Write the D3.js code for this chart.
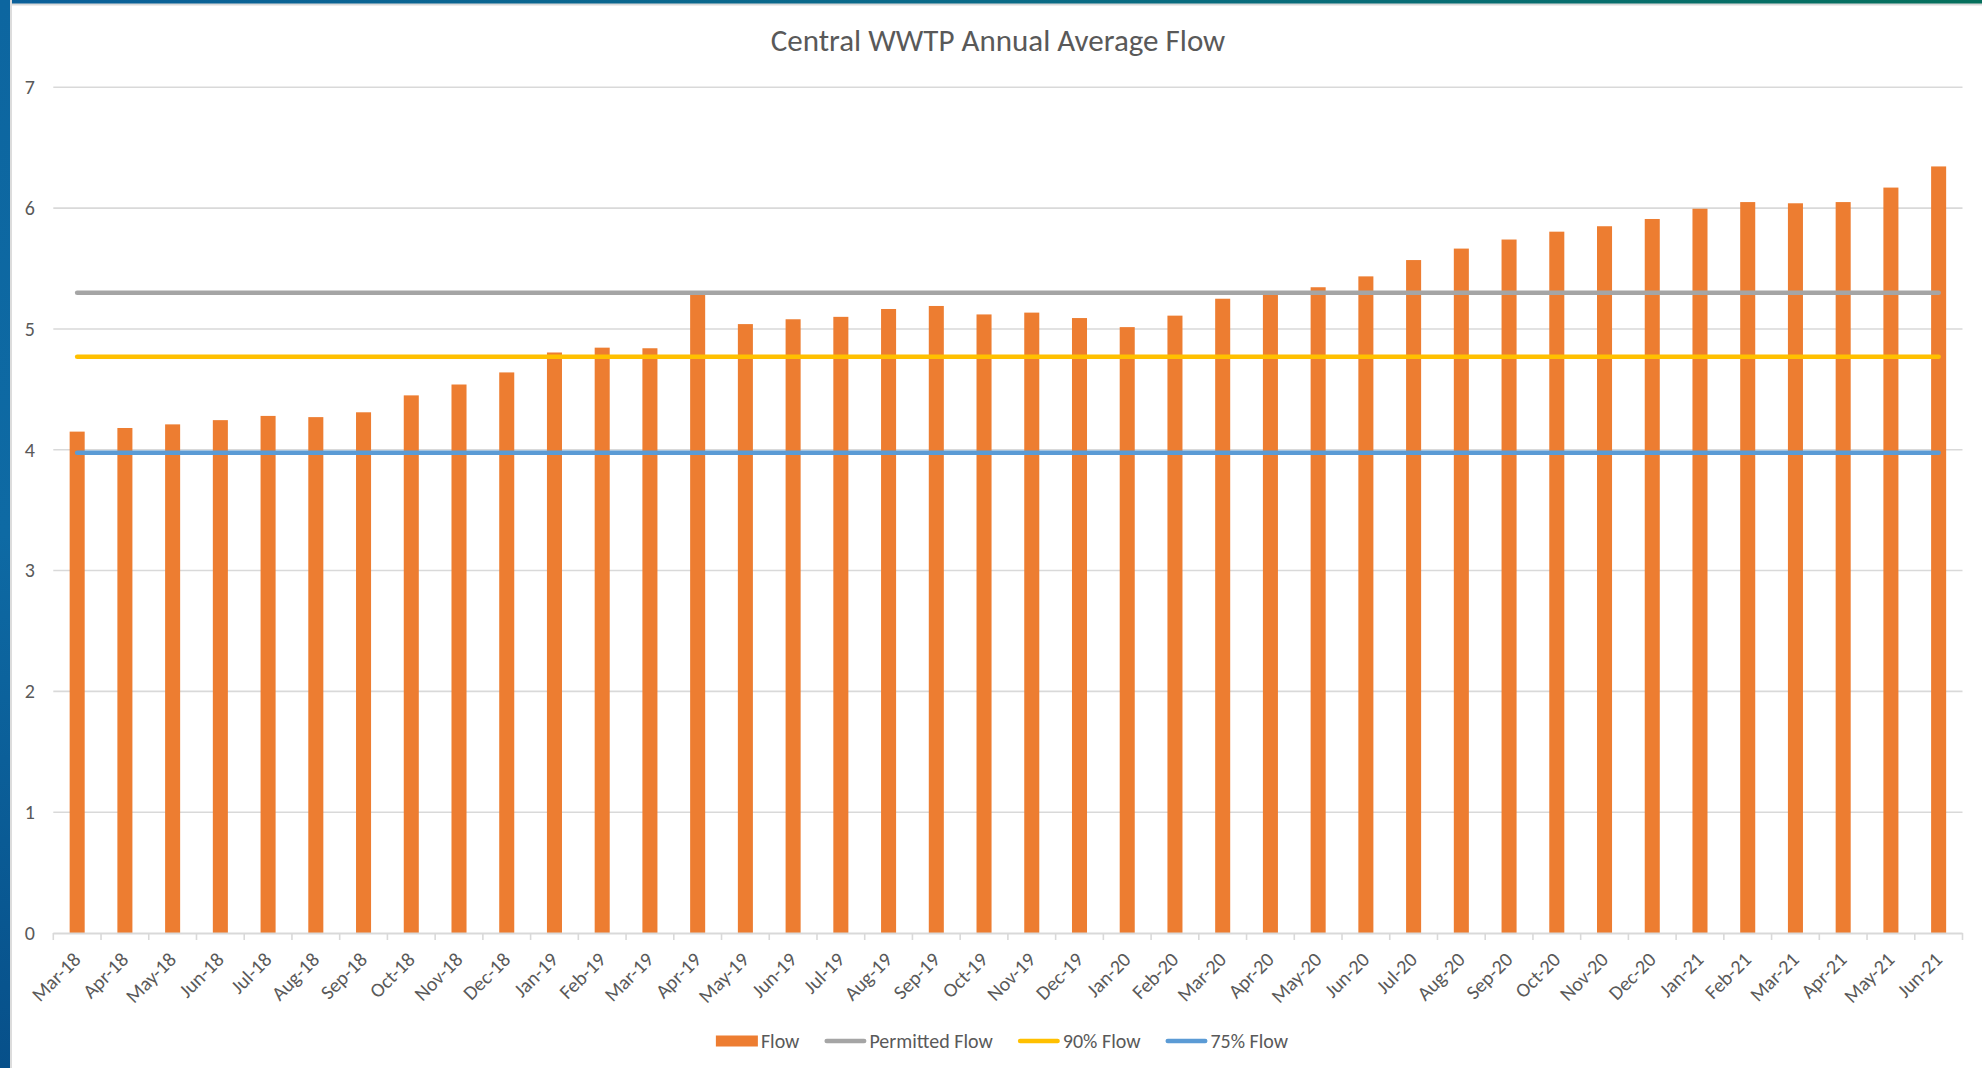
<!DOCTYPE html>
<html>
<head>
<meta charset="utf-8">
<script src="https://cdn.jsdelivr.net/npm/d3@7"></script>
<style>
  body { margin: 0; background: #ffffff; overflow: hidden; }
  svg { display: block; }
  text { font-family: Carlito, Lato, "Open Sans", sans-serif; fill: #595959; }
</style>
</head>
<body>
<svg id="mysvg"></svg>
<script>
// month categories (x tick labels)
let months = ["Mar-18","Apr-18","May-18","Jun-18","Jul-18","Aug-18","Sep-18","Oct-18","Nov-18","Dec-18",
  "Jan-19","Feb-19","Mar-19","Apr-19","May-19","Jun-19","Jul-19","Aug-19","Sep-19","Oct-19","Nov-19","Dec-19",
  "Jan-20","Feb-20","Mar-20","Apr-20","May-20","Jun-20","Jul-20","Aug-20","Sep-20","Oct-20","Nov-20","Dec-20",
  "Jan-21","Feb-21","Mar-21","Apr-21","May-21","Jun-21"];

// annual average flow (MGD)
let flow = [4.15, 4.18, 4.21, 4.245, 4.28, 4.27, 4.31, 4.45, 4.54, 4.64,
  4.805, 4.845, 4.84, 5.29, 5.04, 5.08, 5.10, 5.165, 5.19, 5.12, 5.135, 5.09,
  5.015, 5.11, 5.25, 5.30, 5.345, 5.435, 5.57, 5.665, 5.74, 5.805, 5.85, 5.91,
  5.995, 6.05, 6.04, 6.05, 6.17, 6.345];

// constant reference series
let refNames = ["Permitted Flow", "90% Flow", "75% Flow"];
let refValues = [5.3, 4.77, 3.975];
let refColors = ["#a5a5a5", "#ffc000", "#5b9bd5"];

let yTicks = [0, 1, 2, 3, 4, 5, 6, 7];
let titleText = "Central WWTP Annual Average Flow";

function draw() {
    var W = 1982, H = 1068;
    var svg = d3.select("#mysvg").attr("width", W).attr("height", H);

    // window frame (blue edge on left, teal strip on top)
    var defs = svg.append("defs");
    var gTop = defs.append("linearGradient").attr("id", "topGrad")
        .attr("x1", "0%").attr("x2", "100%").attr("y1", "0%").attr("y2", "0%");
    gTop.append("stop").attr("offset", "0%").attr("stop-color", "#0b609a");
    gTop.append("stop").attr("offset", "50%").attr("stop-color", "#0a6b88");
    gTop.append("stop").attr("offset", "100%").attr("stop-color", "#05705c");
    var gLeft = defs.append("linearGradient").attr("id", "leftGrad")
        .attr("x1", "0%").attr("x2", "0%").attr("y1", "0%").attr("y2", "100%");
    gLeft.append("stop").attr("offset", "0%").attr("stop-color", "#0d66a0");
    gLeft.append("stop").attr("offset", "50%").attr("stop-color", "#0e6aa4");
    gLeft.append("stop").attr("offset", "100%").attr("stop-color", "#07508a");

    svg.append("rect").attr("x", 0).attr("y", 0).attr("width", W).attr("height", 5.5).attr("fill", "#dadada");
    svg.append("rect").attr("x", 0).attr("y", 0).attr("width", W).attr("height", 3.5).attr("fill", "url(#topGrad)");
    svg.append("rect").attr("x", 10).attr("y", 0).attr("width", 2).attr("height", H).attr("fill", "#dcdcdc");
    svg.append("rect").attr("x", 0).attr("y", 0).attr("width", 10).attr("height", H).attr("fill", "url(#leftGrad)");

    var left = 53.3, right = 1962.5, top = 87.3, bottom = 933;

    var x = d3.scaleBand().domain(months).range([left, right]).padding(0);
    var y = d3.scaleLinear().domain([0, 7]).range([bottom, top]);

    // title
    svg.append("text")
        .attr("x", 998).attr("y", 51)
        .attr("text-anchor", "middle")
        .attr("font-size", "31px")
        .text(titleText);

    // gridlines
    svg.append("g")
        .selectAll("line")
        .data(yTicks.filter(function(d) { return d > 0; }))
        .enter().append("line")
        .attr("x1", left).attr("x2", right)
        .attr("y1", function(d) { return y(d); })
        .attr("y2", function(d) { return y(d); })
        .attr("stroke", "#d9d9d9")
        .attr("stroke-width", 1.6);

    // y labels
    svg.append("g")
        .selectAll("text")
        .data(yTicks)
        .enter().append("text")
        .attr("x", 35)
        .attr("y", function(d) { return y(d); })
        .attr("dy", "0.34em")
        .attr("text-anchor", "end")
        .attr("font-size", "20px")
        .text(function(d) { return d; });

    // bars
    var barW = x.bandwidth() * 0.315;
    svg.append("g")
        .selectAll("rect")
        .data(months)
        .enter().append("rect")
        .attr("x", function(d) { return x(d) + x.bandwidth() / 2 - barW / 2; })
        .attr("width", barW)
        .attr("y", function(d, i) { return y(flow[i]); })
        .attr("height", function(d, i) { return bottom - y(flow[i]); })
        .attr("fill", "#ed7d31");

    // x axis line + tick marks between categories
    var xa = svg.append("g");
    xa.append("line")
        .attr("x1", left).attr("x2", right)
        .attr("y1", bottom + 0.5).attr("y2", bottom + 0.5)
        .attr("stroke", "#d9d9d9").attr("stroke-width", 2.2);
    var edges = months.map(function(d) { return x(d); }).concat([right]);
    xa.selectAll("line.tick")
        .data(edges)
        .enter().append("line")
        .attr("class", "tick")
        .attr("x1", function(d) { return d; })
        .attr("x2", function(d) { return d; })
        .attr("y1", bottom).attr("y2", bottom + 7)
        .attr("stroke", "#d9d9d9").attr("stroke-width", 1.6);

    // x labels rotated
    xa.selectAll("text")
        .data(months)
        .enter().append("text")
        .attr("transform", function(d) {
            return "translate(" + (x(d) + x.bandwidth() / 2) + "," + 956 + ") rotate(-45)";
        })
        .attr("dy", "0.34em")
        .attr("text-anchor", "end")
        .attr("font-size", "20px")
        .text(function(d) { return d; });

    // reference lines on top of bars
    var xFirst = x(months[0]) + x.bandwidth() / 2;
    var xLast = x(months[months.length - 1]) + x.bandwidth() / 2;
    svg.append("g")
        .selectAll("line")
        .data(refValues)
        .enter().append("line")
        .attr("x1", xFirst).attr("x2", xLast)
        .attr("y1", function(d) { return y(d); })
        .attr("y2", function(d) { return y(d); })
        .attr("stroke", function(d, i) { return refColors[i]; })
        .attr("stroke-width", 4.6)
        .attr("stroke-linecap", "round");

    // legend
    var legend = svg.append("g");
    var items = [{ name: "Flow", color: "#ed7d31", bar: true }];
    refNames.forEach(function(n, i) { items.push({ name: n, color: refColors[i], bar: false }); });
    var ly = 1041, sw = 42, gap = 3, spacing = 25;
    var cursor = 0;
    items.forEach(function(it) {
        var g = legend.append("g").attr("transform", "translate(" + cursor + ",0)");
        if (it.bar) {
            g.append("rect").attr("x", 0).attr("y", ly - 5.5).attr("width", sw).attr("height", 11).attr("fill", it.color);
        } else {
            g.append("line").attr("x1", 2.3).attr("x2", sw - 2.3).attr("y1", ly).attr("y2", ly)
                .attr("stroke", it.color).attr("stroke-width", 4.6).attr("stroke-linecap", "round");
        }
        var t = g.append("text").attr("x", sw + gap).attr("y", ly).attr("dy", "0.34em")
            .attr("font-size", "20px").text(it.name);
        cursor += sw + gap + t.node().getComputedTextLength() + spacing;
    });
    var total = cursor - spacing;
    legend.attr("transform", "translate(" + (1002 - total / 2) + ",0)");
}

draw();
</script>
</body>
</html>
